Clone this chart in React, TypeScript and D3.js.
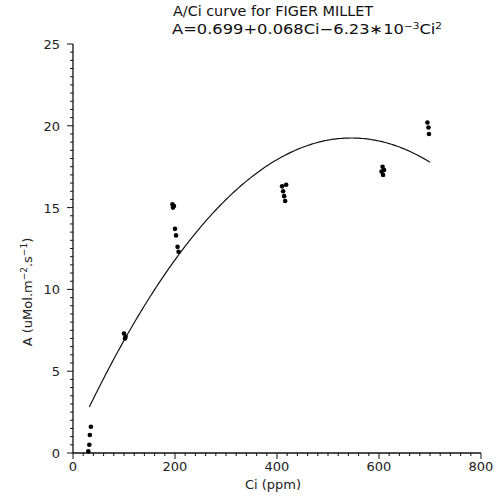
import React from "react";
import * as d3 from "d3";

const ciValues = [30, 32, 33, 35, 100, 102, 103, 195, 196, 198, 200, 202, 205, 207, 410, 412, 414, 416, 418, 605, 607, 608, 610, 695, 697, 698];
const aValues = [0.1, 0.5, 1.1, 1.6, 7.3, 7.0, 7.1, 15.2, 15.0, 15.1, 13.7, 13.3, 12.6, 12.3, 16.3, 16.0, 15.7, 15.4, 16.4, 17.2, 17.5, 17.0, 17.3, 20.2, 19.9, 19.5];
const xTicks = [0, 200, 400, 600, 800];
const yTicks = [0, 5, 10, 15, 20, 25];
const fitCoef = [0.699, 0.068, -6.23e-5];
const fitRange = [32, 700];

const W = 500, H = 497;
const FONT = "'DejaVu Sans', sans-serif";

export default function App() {
  const x = d3.scaleLinear().domain([0, 800]).range([73, 481]);
  const y = d3.scaleLinear().domain([0, 25]).range([453, 44]);

  const fitPts = d3.range(fitRange[0], fitRange[1] + 1, 4).map((c) => [c, fitCoef[0] + fitCoef[1] * c + fitCoef[2] * c * c] as [number, number]);
  const line = d3.line<[number, number]>().x((d) => x(d[0])).y((d) => y(d[1]));

  const yMinor = d3.range(0, 25.01, 0.5);
  const xMinor = d3.range(0, 800.1, 20);

  return (
    <svg width={W} height={H} style={{ position: "absolute", left: 0, top: 0, background: "#fff" }}>
      <rect x={0} y={0} width={W} height={H} fill="#fff" />
      {/* title */}
      <text x={173} y={16} fontFamily={FONT} fontSize={14} textLength={200} lengthAdjust="spacingAndGlyphs" fill="#111">A/Ci curve for FIGER MILLET</text>
      <text x={172} y={34} fontFamily={FONT} fontSize={14} fill="#111" textLength={270} lengthAdjust="spacingAndGlyphs">
        A=0.699+0.068Ci−6.23∗10<tspan dy={-5} fontSize={9}>−3</tspan><tspan dy={5}>Ci</tspan><tspan dy={-5} fontSize={9}>2</tspan>
      </text>

      {/* axes */}
      <line x1={x(0)} x2={x(0)} y1={y(25)} y2={y(0)} stroke="#111" strokeWidth={1.3} />
      <line x1={x(0)} x2={x(800)} y1={y(0)} y2={y(0)} stroke="#111" strokeWidth={1.3} />
      {yMinor.map((v) => (
        <line key={"ym" + v} x1={x(0) - (v % 5 === 0 ? 6 : 3)} x2={x(0)} y1={y(v)} y2={y(v)} stroke="#111" strokeWidth={1} />
      ))}
      {xMinor.map((v) => (
        <line key={"xm" + v} x1={x(v)} x2={x(v)} y1={y(0)} y2={y(0) + (v % 200 === 0 ? 6 : 3)} stroke="#111" strokeWidth={1} />
      ))}
      {yTicks.map((v) => (
        <text key={"yt" + v} x={60} y={y(v) + 5} textAnchor="end" fontFamily={FONT} fontSize={13} fill="#222">{v}</text>
      ))}
      {xTicks.map((v) => (
        <text key={"xt" + v} x={x(v)} y={471} textAnchor="middle" fontFamily={FONT} fontSize={13} fill="#222">{v}</text>
      ))}
      <text x={273} y={489} textAnchor="middle" fontFamily={FONT} fontSize={13} fill="#222">Ci (ppm)</text>
      <text transform={`translate(32,292) rotate(-90)`} textAnchor="middle" fontFamily={FONT} fontSize={13} fill="#222">
        A (uMol.m<tspan dy={-5} fontSize={9}>−2</tspan><tspan dy={5}>.s</tspan><tspan dy={-5} fontSize={9}>−1</tspan><tspan dy={5}>)</tspan>
      </text>

      {/* fit curve */}
      <path d={line(fitPts) || ""} fill="none" stroke="#111" strokeWidth={1.2} />

      {/* points */}
      {ciValues.map((c, i) => (
        <circle key={"p" + i} cx={x(c)} cy={y(aValues[i])} r={2.3} fill="#000" />
      ))}
    </svg>
  );
}
